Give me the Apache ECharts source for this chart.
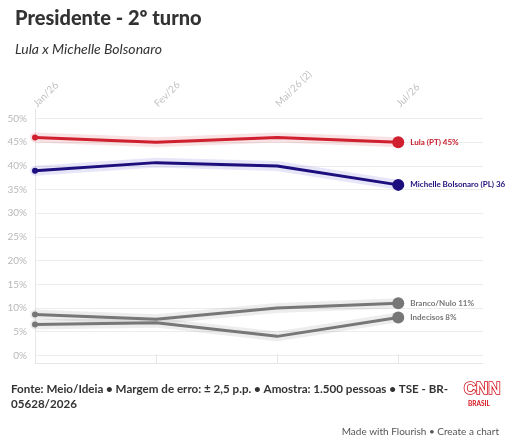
<!DOCTYPE html>
<html>
<head>
<meta charset="utf-8">
<script src="https://cdn.jsdelivr.net/npm/echarts@6/dist/echarts.min.js"></script>
<style>
html,body{margin:0;padding:0;background:#fff;}
#c{width:513px;height:447px;}
</style>
</head>
<body>
<div id="c"></div>
<script>
var categories = ['Jan/26', 'Fev/26', 'Mai/26 (2)', 'Jul/26'];
var lula = [46, 45, 46, 45];
var michelle = [39, 40.7, 40, 36];
var branco = [8.6, 7.6, 10, 11];
var indecisos = [6.5, 6.9, 4, 8];
var seriesNames = ['Lula (PT)', 'Michelle Bolsonaro (PL)', 'Branco/Nulo', 'Indecisos'];
var endLabels = ['Lula (PT) 45%', 'Michelle Bolsonaro (PL) 36%', 'Branco/Nulo 11%', 'Indecisos 8%'];
var yTicks = [0, 5, 10, 15, 20, 25, 30, 35, 40, 45, 50];

var FONT = 'Lato, "Open Sans", sans-serif';
var colors = ['#d01f2e', '#1c0e7c', '#777777', '#777777'];
var haloColors = ['rgba(208,31,46,0.13)', 'rgba(60,40,200,0.12)', 'rgba(0,0,0,0.07)', 'rgba(0,0,0,0.07)'];
var labelColors = ['#c8202e', '#1c0e7c', '#777777', '#777777'];
var values = [lula, michelle, branco, indecisos];
var XMAX = 3.7;

var series = [];
values.forEach(function (vals, s) {
  series.push({
    type: 'line', name: seriesNames[s] + ' halo', xAxisIndex: 0, yAxisIndex: 0,
    data: vals.map(function (v, i) { return [i, v]; }),
    showSymbol: false, symbol: 'none', silent: true, z: 1,
    lineStyle: { width: 10, color: haloColors[s], cap: 'round', join: 'round' }
  });
});
values.forEach(function (vals, s) {
  series.push({
    type: 'line', name: seriesNames[s], xAxisIndex: 0, yAxisIndex: 0, z: 3,
    data: vals.map(function (v, i) {
      var last = i === vals.length - 1;
      var item = { value: [i, v], symbolSize: i === 0 ? 6 : (last ? 12 : 0) };
      if (last) {
        item.label = {
          show: true, position: 'right', distance: 6,
          formatter: endLabels[s],
          color: labelColors[s], fontFamily: FONT, fontWeight: 'bold', fontSize: 8,
          width: 102, overflow: 'truncate', ellipsis: ''
        };
      }
      return item;
    }),
    symbol: 'circle', showSymbol: true,
    itemStyle: { color: colors[s] },
    lineStyle: { width: 3, color: colors[s], join: 'round' }
  });
});

var chart = echarts.init(document.getElementById('c'), null, { renderer: 'canvas' });
chart.setOption({
  animation: false,
  backgroundColor: '#fff',
  title: [
    { text: 'Presidente - 2º turno', left: 10, top: 4,
      textStyle: { fontFamily: FONT, fontWeight: 900, fontSize: 20, color: '#333' } },
    { text: 'Lula x Michelle Bolsonaro', left: 10, top: 37,
      textStyle: { fontFamily: FONT, fontStyle: 'italic', fontWeight: 'normal', fontSize: 14, color: '#333' } }
  ],
  grid: [
    { left: 35, right: 30, top: 118.6, bottom: 91.7 },
    { left: 35, right: 30, top: 109.3, bottom: 84 }
  ],
  xAxis: [
    { type: 'value', gridIndex: 0, min: 0, max: XMAX,
      axisLine: { show: false }, axisTick: { show: false }, axisLabel: { show: false }, splitLine: { show: false } },
    { type: 'value', gridIndex: 1, position: 'top', min: 0, max: XMAX, interval: 1,
      axisLine: { show: true, lineStyle: { color: '#e6e6e6', width: 1 } },
      axisTick: { show: true, length: 9, lineStyle: { color: '#e6e6e6' }, customValues: [0, 1, 2, 3] },
      axisLabel: { show: true, rotate: 45, margin: 4, color: '#c2c2c2', fontFamily: FONT, fontSize: 10,
        customValues: [0, 1, 2, 3],
        formatter: function (v) { return categories[Math.round(v)] || ''; } },
      splitLine: { show: false } }
  ],
  yAxis: [
    { type: 'value', gridIndex: 0, min: 0, max: 50, interval: 5,
      axisLine: { show: false }, axisTick: { show: false },
      axisLabel: { color: '#b8b8b8', fontFamily: FONT, fontSize: 10, margin: 8,
        formatter: function (v) { return yTicks.indexOf(v) >= 0 ? v + '%' : ''; } },
      splitLine: { show: true, lineStyle: { color: '#ececec', width: 1 } } },
    { type: 'value', gridIndex: 1, min: 0, max: 1,
      axisLine: { show: true, lineStyle: { color: '#e6e6e6', width: 1 } },
      axisTick: { show: false }, axisLabel: { show: false }, splitLine: { show: false } }
  ],
  series: series,
  graphic: [
    { type: 'text', left: 11, top: 381,
      style: { text: 'Fonte: Meio/Ideia • Margem de erro: ± 2,5 p.p. • Amostra: 1.500 pessoas • TSE - BR-\n05628/2026',
        fill: '#333', fontFamily: FONT, fontWeight: 'bold', fontSize: 11.6, lineHeight: 15.5 } },
    { type: 'text', left: 463, top: 380,
      style: { text: 'CNN', fill: '#fff', stroke: '#d3121c', lineWidth: 1.6, fontFamily: 'Liberation Sans, sans-serif', fontWeight: 'bold', fontSize: 17 } },
    { type: 'text', left: 468, top: 400,
      style: { text: 'BRASIL', fill: '#d3121c', fontFamily: FONT, fontWeight: 'bold', fontSize: 6.5 } },
    { type: 'text', right: 14, top: 427,
      style: { text: 'Made with Flourish • Create a chart', fill: '#555', fontFamily: FONT, fontSize: 10 } }
  ]
});
</script>
</body>
</html>
